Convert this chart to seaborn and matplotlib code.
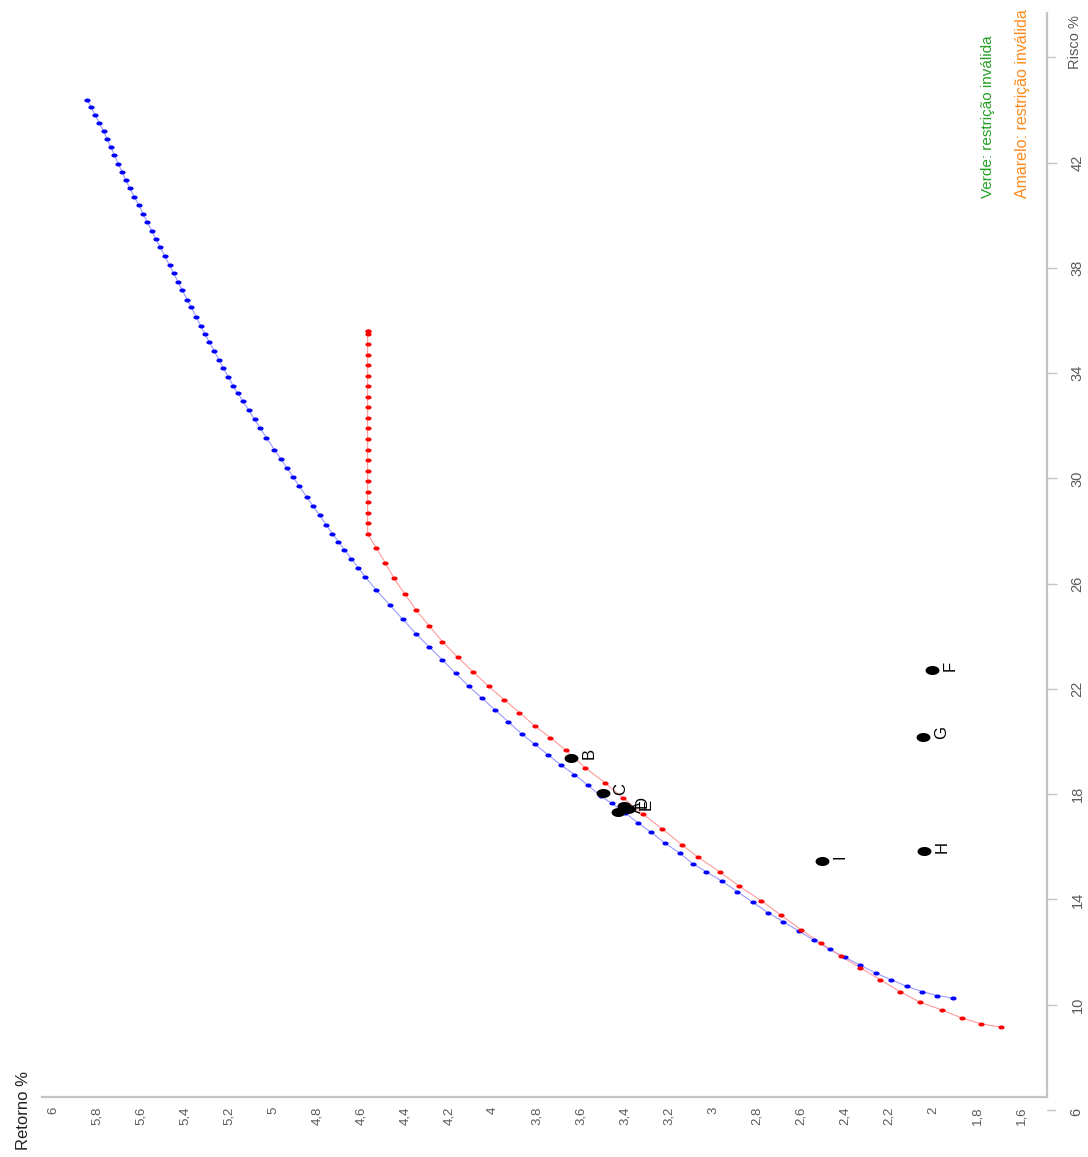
import matplotlib
matplotlib.use("Agg")
import matplotlib.pyplot as plt
import numpy as np
import pandas as pd
import seaborn as sns
from matplotlib.path import Path

# ---------------- data ----------------
blue_ret = [1.91, 1.98, 2.05, 2.12, 2.19, 2.26, 2.33, 2.40, 2.47, 2.54, 2.61, 2.68, 2.75, 2.82, 2.89,
            2.96, 3.03, 3.09, 3.15, 3.22, 3.28, 3.34, 3.40, 3.46, 3.51, 3.57, 3.63, 3.69, 3.75, 3.81,
            3.87, 3.93, 3.99, 4.05, 4.11, 4.17, 4.23, 4.29, 4.35, 4.41, 4.47, 4.53, 4.58,
            4.612, 4.644, 4.676, 4.703, 4.73, 4.759, 4.788, 4.818, 4.847, 4.88,
            4.908, 4.937, 4.965, 4.994, 5.03, 5.057, 5.084, 5.111, 5.138, 5.161, 5.18,
            5.203, 5.226, 5.245, 5.268, 5.29, 5.31, 5.328, 5.35, 5.371, 5.39, 5.412, 5.43,
            5.452, 5.47, 5.492, 5.513, 5.532, 5.55, 5.572, 5.59, 5.611, 5.63, 5.652, 5.67,
            5.686, 5.703, 5.721, 5.738, 5.754, 5.77, 5.789, 5.808, 5.826, 5.845]
blue_risk = [10.25, 10.35, 10.5, 10.7, 10.95, 11.2, 11.5, 11.8, 12.1, 12.45, 12.8, 13.15, 13.5, 13.9, 14.3,
             14.7, 15.05, 15.35, 15.75, 16.15, 16.55, 16.9, 17.3, 17.65, 17.93, 18.35, 18.75, 19.1, 19.5, 19.9,
             20.29, 20.75, 21.2, 21.65, 22.1, 22.6, 23.1, 23.6, 24.1, 24.65, 25.2, 25.75, 26.25,
             26.6, 26.95, 27.3, 27.6, 27.9, 28.25, 28.6, 28.95, 29.3, 29.7,
             30.05, 30.4, 30.75, 31.1, 31.55, 31.9, 32.25, 32.6, 32.95, 33.25, 33.5,
             33.85, 34.2, 34.5, 34.85, 35.2, 35.5, 35.8, 36.15, 36.5, 36.8, 37.15, 37.45,
             37.8, 38.1, 38.45, 38.8, 39.1, 39.4, 39.75, 40.05, 40.4, 40.7, 41.05, 41.35,
             41.65, 41.95, 42.3, 42.6, 42.9, 43.2, 43.5, 43.8, 44.1, 44.4]

red_ret = [1.69, 1.78, 1.87, 1.96, 2.06, 2.15, 2.24, 2.33, 2.42, 2.51, 2.60, 2.69, 2.78, 2.88, 2.97,
           3.07, 3.14, 3.23, 3.32, 3.41, 3.49, 3.58, 3.67, 3.74, 3.81, 3.88, 3.95, 4.02, 4.09, 4.16,
           4.23, 4.29, 4.35, 4.40, 4.45, 4.49, 4.53, 4.57,
           4.57, 4.57, 4.57, 4.57, 4.57, 4.57, 4.57, 4.57, 4.57, 4.57, 4.57, 4.57, 4.57, 4.57, 4.57,
           4.57, 4.57, 4.57, 4.57, 4.57, 4.57]
red_risk = [9.15, 9.27, 9.5, 9.8, 10.1, 10.5, 10.95, 11.4, 11.85, 12.35, 12.85, 13.4, 13.95, 14.5, 15.05,
            15.62, 16.07, 16.68, 17.25, 17.86, 18.43, 19.0, 19.68, 20.15, 20.6, 21.1, 21.6, 22.1, 22.65, 23.2,
            23.8, 24.4, 25.0, 25.6, 26.2, 26.8, 27.35, 27.9,
            28.3, 28.7, 29.1, 29.5, 29.9, 30.3, 30.7, 31.1, 31.5, 31.9, 32.3, 32.7, 33.1, 33.5, 33.9,
            34.3, 34.7, 35.1, 35.5, 35.6, 35.6]

asset_names = ["A", "B", "C", "D", "E", "F", "G", "H", "I"]
asset_ret = [3.43, 3.645, 3.50, 3.405, 3.386, 2.005, 2.045, 2.04, 2.505]
asset_risk = [17.33, 19.38, 18.05, 17.55, 17.44, 22.72, 20.18, 15.84, 15.46]

ret_ticks = [6, 5.8, 5.6, 5.4, 5.2, 5, 4.8, 4.6, 4.4, 4.2, 4, 3.8, 3.6, 3.4, 3.2, 3, 2.8, 2.6, 2.4, 2.2, 2, 1.8, 1.6]
risk_ticks = [10, 14, 18, 22, 26, 30, 34, 38, 42]

# ---------------- style ----------------
sns.set_style("white")
plt.rcParams['font.family'] = ['Liberation Sans', 'DejaVu Sans']

W, H = 1088, 1157
fig = plt.figure(figsize=(W / 100, H / 100), dpi=100)
ax = fig.add_axes([42 / W, 1 - 1097 / H, (1047 - 42) / W, (1097 - 13) / H])
ax.set_xlim(6.05, 1.482)
ax.set_ylim(6.494, 47.69)

# horizontal ellipse marker (picture is stretched sideways)
t = np.linspace(0, 2 * np.pi, 40)
ell = Path(np.column_stack([np.cos(t), 0.65 * np.sin(t)]), closed=True)

blue_df = pd.DataFrame({"ret": blue_ret, "risk": blue_risk})
red_df = pd.DataFrame({"ret": red_ret, "risk": red_risk})
asset_df = pd.DataFrame({"ret": asset_ret, "risk": asset_risk, "name": asset_names})

sns.lineplot(data=blue_df, x="ret", y="risk", sort=False, estimator=None, ax=ax,
             color="#9a9aff", linewidth=0.8)
sns.lineplot(data=red_df, x="ret", y="risk", sort=False, estimator=None, ax=ax,
             color="#ff9a9a", linewidth=0.8)
sns.scatterplot(data=blue_df, x="ret", y="risk", ax=ax, color="#0000ff", marker=ell,
                s=20, linewidth=0, zorder=3)
sns.scatterplot(data=red_df, x="ret", y="risk", ax=ax, color="#ff0000", marker=ell,
                s=20, linewidth=0, zorder=3)
sns.scatterplot(data=asset_df, x="ret", y="risk", ax=ax, color="black", marker=ell,
                s=100, linewidth=0, zorder=4)
for _, row in asset_df.iterrows():
    ax.annotate(row["name"], (row["ret"], row["risk"]), xytext=(13, 3), textcoords="offset points",
                rotation=90, ha="center", va="center", fontsize=12, color="black")

# axes / spines
for side in ["left", "top"]:
    ax.spines[side].set_visible(False)
for side in ["bottom", "right"]:
    ax.spines[side].set_color("#c4c4c4")
    ax.spines[side].set_linewidth(1.6)

ax.set_xticks(ret_ticks)
ax.set_xticklabels([("%g" % v).replace(".", ",") for v in ret_ticks])
ax.yaxis.tick_right()
ax.set_yticks(risk_ticks)
ax.set_yticklabels([str(v) for v in risk_ticks])
ax.tick_params(axis="x", direction="out", length=4, width=1, color="#c4c4c4",
               labelcolor="#5a5a5a", labelsize=9.5, labelrotation=90, pad=3)
ax.tick_params(axis="y", direction="out", length=7, width=1, color="#c4c4c4",
               labelcolor="#5a5a5a", labelsize=10.5, labelrotation=90, pad=10, right=True, left=False)
for lab in ax.get_yticklabels():
    lab.set_va("center")
ax.set_xlabel("")
ax.set_ylabel("")

# extra tick for 6 below the frame and 46 tick
ax.plot([1.482, 1.482 - 0.035], [6.0, 6.0], color="#c4c4c4", lw=1, clip_on=False)
ax.plot([1.482, 1.482 - 0.035], [46.0, 46.0], color="#c4c4c4", lw=1, clip_on=False)
fig.text(1076 / W, 1 - 1112 / H, "6", rotation=90, ha="center", va="center",
         fontsize=10.5, color="#5a5a5a")

# axis titles
fig.text(1075 / W, 1 - 42 / H, "Risco %", rotation=90, ha="center", va="center",
         fontsize=10.5, color="#5a5a5a")
fig.text(24 / W, 1 - 1110 / H, "Retorno %", rotation=90, ha="center", va="center",
         fontsize=12, color="#222222")

# notes
fig.text(988 / W, 1 - 198 / H, "Verde: restrição inválida", rotation=90, ha="center", va="bottom",
         fontsize=11, color="#22a022")
fig.text(1022 / W, 1 - 198 / H, "Amarelo: restrição inválida", rotation=90, ha="center", va="bottom",
         fontsize=11.5, color="#ff8a1c")

fig.savefig("out.png", dpi=100)
